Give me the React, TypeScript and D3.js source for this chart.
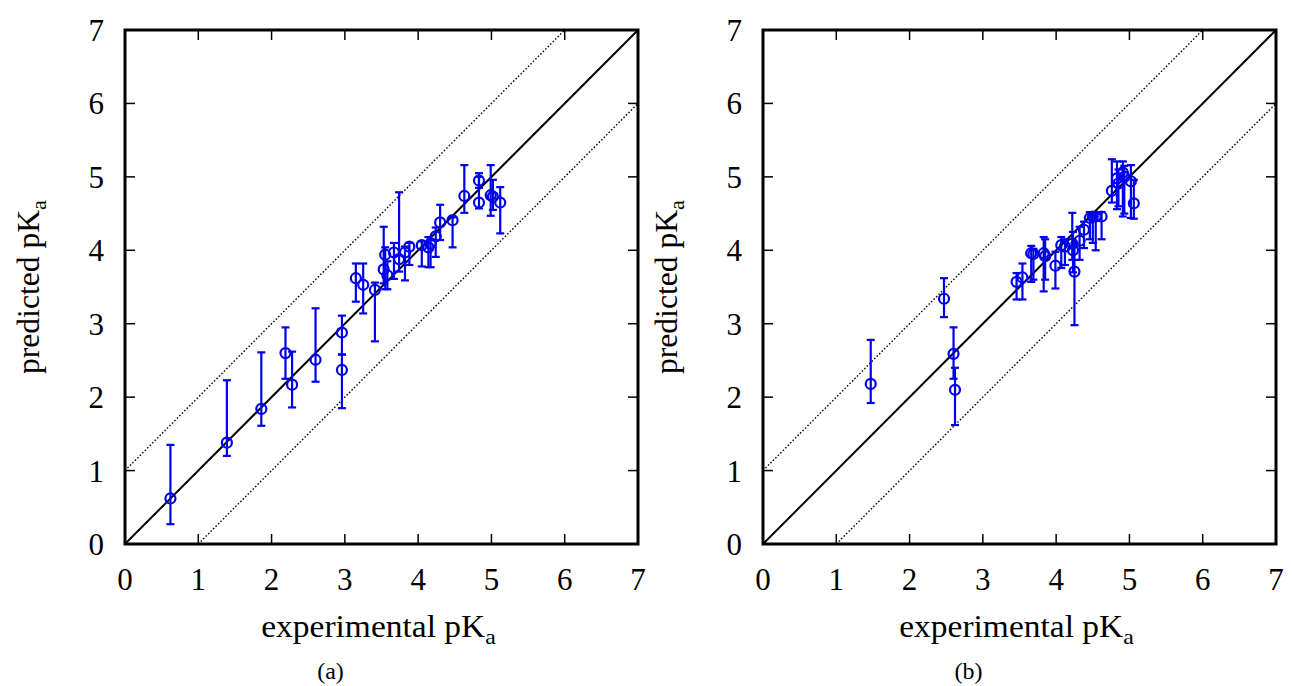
import React from "react";
import * as d3 from "d3";

// Panel (a): experimental, predicted, error low, error high
const expA = [0.62, 1.39, 1.86, 2.19, 2.28, 2.60, 2.96, 2.96, 3.15, 3.25, 3.41, 3.53, 3.55, 3.58, 3.67, 3.74, 3.82, 3.88, 4.05, 4.14, 4.17, 4.24, 4.30, 4.47, 4.63, 4.83, 4.83, 4.99, 5.02, 5.12];
const predA = [0.62, 1.38, 1.84, 2.60, 2.17, 2.51, 2.88, 2.37, 3.62, 3.53, 3.46, 3.74, 3.94, 3.66, 3.97, 3.88, 3.97, 4.05, 4.07, 4.04, 4.09, 4.19, 4.38, 4.41, 4.74, 4.95, 4.65, 4.75, 4.73, 4.65];
const loA = [0.27, 1.20, 1.61, 2.25, 1.86, 2.21, 2.58, 1.85, 3.30, 3.14, 2.76, 3.55, 3.47, 3.47, 3.61, 3.71, 3.59, 3.80, 3.78, 3.77, 3.77, 3.91, 4.14, 4.04, 4.51, 4.85, 4.57, 4.47, 4.55, 4.23];
const hiA = [1.35, 2.23, 2.61, 2.95, 2.62, 3.21, 3.11, 2.58, 3.82, 3.82, 3.56, 4.32, 4.04, 3.85, 4.10, 4.79, 4.05, 4.10, 4.12, 4.18, 4.15, 4.31, 4.62, 4.45, 5.16, 5.05, 5.00, 5.16, 4.96, 4.86];

// Panel (b)
const expB = [1.47, 2.47, 2.60, 2.62, 3.46, 3.54, 3.66, 3.69, 3.83, 3.85, 3.99, 4.07, 4.12, 4.22, 4.23, 4.25, 4.32, 4.38, 4.46, 4.50, 4.54, 4.62, 4.76, 4.83, 4.85, 4.91, 4.93, 5.02, 5.06];
const predB = [2.18, 3.34, 2.59, 2.10, 3.57, 3.63, 3.96, 3.95, 3.96, 3.92, 3.79, 4.07, 4.05, 4.09, 4.00, 3.71, 4.13, 4.28, 4.44, 4.46, 4.46, 4.46, 4.81, 4.98, 4.91, 5.06, 5.00, 4.94, 4.64];
const loB = [1.92, 3.09, 2.25, 1.62, 3.33, 3.33, 3.57, 3.60, 3.44, 3.60, 3.48, 3.76, 3.80, 3.87, 3.70, 2.98, 3.87, 4.03, 4.15, 4.10, 4.00, 4.15, 4.65, 4.56, 4.60, 4.46, 4.50, 4.44, 4.43];
const hiB = [2.78, 3.62, 2.95, 2.40, 3.69, 3.82, 4.06, 4.02, 4.18, 4.15, 3.98, 4.18, 4.15, 4.51, 4.25, 4.10, 4.32, 4.39, 4.52, 4.52, 4.50, 4.52, 5.24, 5.21, 5.10, 5.21, 5.15, 5.16, 4.96];

const ticks = [0, 1, 2, 3, 4, 5, 6, 7];
const panelLabels = ["(a)", "(b)"];

const BLUE = "#0000ee";
const FONT = "'Liberation Serif', 'Times New Roman', serif";
const FS = 31;

type PanelProps = { x0: number; ex: number[]; pr: number[]; lo: number[]; hi: number[]; label: string };

function Panel({ x0, ex, pr, lo, hi, label }: PanelProps) {
  const w = 513;
  const top = 30;
  const bottom = 544;
  const x = d3.scaleLinear().domain([0, 7]).range([x0, x0 + w]);
  const y = d3.scaleLinear().domain([0, 7]).range([bottom, top]);
  const line = d3.line<[number, number]>().x((d) => x(d[0])).y((d) => y(d[1]));
  const diag: [number, number][] = [[0, 0], [7, 7]];
  const upper: [number, number][] = [[0, 1], [6, 7]];
  const lower: [number, number][] = [[1, 0], [7, 6]];
  const tl = 10;
  const cx = x0 + w / 2;
  return (
    <g>
      <defs>
        <clipPath id={`clip${x0}`}>
          <rect x={x0} y={top} width={w} height={bottom - top} />
        </clipPath>
      </defs>
      <g clipPath={`url(#clip${x0})`}>
        <path d={line(upper) || ""} stroke="#000" strokeWidth={1.4} strokeDasharray="1.5,2" fill="none" />
        <path d={line(lower) || ""} stroke="#000" strokeWidth={1.4} strokeDasharray="1.5,2" fill="none" />
        <path d={line(diag) || ""} stroke="#000" strokeWidth={2} fill="none" />
      </g>
      {ex.map((e, i) => (
        <g key={i} stroke={BLUE} strokeWidth={2.2} fill="none">
          <line x1={x(e)} x2={x(e)} y1={y(lo[i])} y2={y(hi[i])} />
          <line x1={x(e) - 4} x2={x(e) + 4} y1={y(lo[i])} y2={y(lo[i])} />
          <line x1={x(e) - 4} x2={x(e) + 4} y1={y(hi[i])} y2={y(hi[i])} />
          <circle cx={x(e)} cy={y(pr[i])} r={5} />
        </g>
      ))}
      {ticks.map((t) => (
        <g key={t} stroke="#000" strokeWidth={1.5}>
          {t > 0 && t < 7 && (
            <>
              <line x1={x(t)} x2={x(t)} y1={bottom} y2={bottom - tl} />
              <line x1={x(t)} x2={x(t)} y1={top} y2={top + tl} />
              <line x1={x0} x2={x0 + tl} y1={y(t)} y2={y(t)} />
              <line x1={x0 + w} x2={x0 + w - tl} y1={y(t)} y2={y(t)} />
            </>
          )}
        </g>
      ))}
      <rect x={x0} y={top} width={w} height={bottom - top} fill="none" stroke="#000" strokeWidth={3} />
      {ticks.map((t) => (
        <text key={"xl" + t} x={x(t)} y={bottom + 46} textAnchor="middle" fontFamily={FONT} fontSize={FS}>
          {t}
        </text>
      ))}
      {ticks.map((t) => (
        <text key={"yl" + t} x={x0 - 21} y={y(t) + 11} textAnchor="end" fontFamily={FONT} fontSize={FS}>
          {t}
        </text>
      ))}
      <text
        transform={`translate(${cx - 3},637) scale(1.08,1)`}
        textAnchor="middle"
        fontFamily={FONT}
        fontSize={FS}
      >
        experimental pK
        <tspan fontSize={22} dy={7}>a</tspan>
      </text>
      <text
        transform={`translate(${x0 - 86},287) rotate(-90) scale(1.02,1)`}
        textAnchor="middle"
        fontFamily={FONT}
        fontSize={FS}
      >
        predicted pK
        <tspan fontSize={22} dy={7}>a</tspan>
      </text>
      <text x={cx - 51} y={679} textAnchor="middle" fontFamily={FONT} fontSize={24}>
        {label}
      </text>
    </g>
  );
}

export default function App() {
  return (
    <svg
      width={1292}
      height={686}
      style={{ position: "absolute", left: 0, top: 0, background: "#fff" }}
    >
      <rect width={1292} height={686} fill="#fff" />
      <Panel x0={125} ex={expA} pr={predA} lo={loA} hi={hiA} label={panelLabels[0]} />
      <Panel x0={763} ex={expB} pr={predB} lo={loB} hi={hiB} label={panelLabels[1]} />
    </svg>
  );
}
